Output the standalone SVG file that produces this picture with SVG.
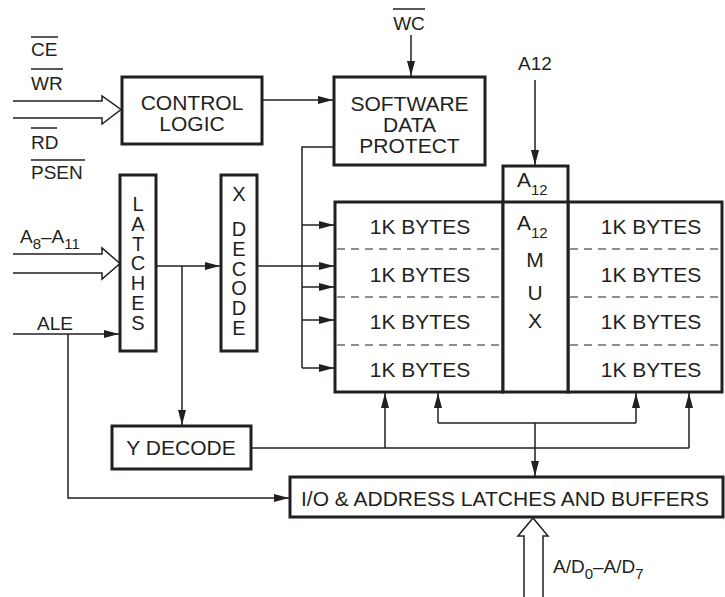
<svg xmlns="http://www.w3.org/2000/svg" width="725" height="597" viewBox="0 0 725 597">
<defs>
<marker id="ah" markerUnits="userSpaceOnUse" markerWidth="15" markerHeight="8" refX="15" refY="4" orient="auto"><path d="M0,0 L15,4 L0,8 z" fill="#231f20"/></marker>
<style>
text{font-family:"Liberation Sans",Arial,sans-serif;fill:#231f20;font-size:21px}
.m{text-anchor:middle}
.lbl{font-size:19px}
.sub{font-size:15px}
.vt{writing-mode:vertical-rl;text-orientation:upright;font-size:20px;letter-spacing:-2.2px}
.box{fill:#fff;stroke:#231f20;stroke-width:3}
.c{fill:none;stroke:#231f20;stroke-width:1.5}
.a{marker-end:url(#ah)}
.ol{stroke:#231f20;stroke-width:1.5}
.d{stroke:#231f20;stroke-width:1.2;stroke-dasharray:8,6}
.hol{fill:#fff;stroke:#231f20;stroke-width:1.5}
</style>
</defs>
<rect width="725" height="597" fill="#fff"/>

<g id="connectors">
<path class="c a" d="M262,100 H333"/>
<path class="c a" d="M411,35 V76"/>
<path class="c a" d="M535,80 V165"/>
<path class="c" d="M334,147 H302 V368"/>
<path class="c a" d="M302,225 H334"/>
<path class="c a" d="M302,287 H334"/>
<path class="c a" d="M302,320 H334"/>
<path class="c a" d="M302,368 H334"/>
<path class="c a" d="M156,266 H220"/>
<path class="c a" d="M182,266 V425"/>
<path class="c a" d="M257,266 H334"/>
<path class="c a" d="M13,334 H119"/>
<path class="c a" d="M68,334 V498 H289"/>
<path class="c" d="M251,448 H689"/>
<path class="c a" d="M385,448 V393"/>
<path class="c a" d="M689,448 V393"/>
<path class="c a" d="M535,423 V476"/>
<path class="c" d="M438,423 H636"/>
<path class="c a" d="M438,423 V393"/>
<path class="c a" d="M636,423 V393"/>
<path class="hol" d="M13,101 H102 V96 L121,109.5 L102,124 V118 H13"/>
<path class="hol" d="M13,254 H102 V248 L120,263.5 L102,279 V273 H13"/>
<path class="hol" d="M524,597 V536 H518 L533,518 L548,536 H543 V597"/>
</g>

<g id="labels">
<text class="lbl" x="31" y="56">CE</text><line class="ol" x1="31" y1="37" x2="58" y2="37"/>
<text class="lbl" x="31" y="90">WR</text><line class="ol" x1="31" y1="69" x2="63" y2="69"/>
<text class="lbl" x="31" y="149">RD</text><line class="ol" x1="31" y1="128" x2="57" y2="128"/>
<text class="lbl" x="31" y="179">PSEN</text><line class="ol" x1="31" y1="160" x2="85" y2="160"/>
<text class="lbl m" x="409" y="30">WC</text><line class="ol" x1="393" y1="9" x2="425" y2="9"/>
<text class="lbl m" x="535" y="70">A12</text>
<text class="lbl" x="20" y="243">A<tspan class="sub" dy="6">8</tspan><tspan dy="-6">–A</tspan><tspan class="sub" dy="6">11</tspan></text>
<text class="lbl" x="37" y="330">ALE</text>
<text class="lbl" x="553" y="573">A/D<tspan class="sub" dy="6">0</tspan><tspan dy="-6">–A/D</tspan><tspan class="sub" dy="6">7</tspan></text>
</g>

<g id="control-logic">
<rect class="box" x="122" y="77" width="140" height="67"/>
<text class="m" x="192" y="109.5">CONTROL</text>
<text class="m" x="192" y="130.5">LOGIC</text>
</g>

<g id="software-data-protect">
<rect class="box" x="334" y="77" width="151" height="88"/>
<text class="m" x="409.5" y="111">SOFTWARE</text>
<text class="m" x="409.5" y="132">DATA</text>
<text class="m" x="409.5" y="153">PROTECT</text>
</g>

<g id="latches">
<rect class="box" x="120" y="175" width="36" height="176"/>
<text class="vt" x="138" y="193">LATCHES</text>
</g>

<g id="x-decode">
<rect class="box" x="221" y="175" width="36" height="176"/>
<text class="m" x="239" y="201" style="font-size:20px">X</text>
<text class="vt" x="239" y="218">DECODE</text>
</g>

<g id="memory-left">
<rect class="box" x="335" y="202" width="168" height="190"/>
<line class="d" x1="337" y1="249" x2="500" y2="249"/>
<line class="d" x1="337" y1="297" x2="500" y2="297"/>
<line class="d" x1="337" y1="345" x2="500" y2="345"/>
<text class="m" x="420" y="234">1K BYTES</text>
<text class="m" x="420" y="282">1K BYTES</text>
<text class="m" x="420" y="329">1K BYTES</text>
<text class="m" x="420" y="377">1K BYTES</text>
</g>

<g id="memory-right">
<rect class="box" x="568" y="202" width="154" height="190"/>
<line class="d" x1="570" y1="249" x2="722" y2="249"/>
<line class="d" x1="570" y1="297" x2="722" y2="297"/>
<line class="d" x1="570" y1="345" x2="722" y2="345"/>
<text class="m" x="651" y="234">1K BYTES</text>
<text class="m" x="651" y="282">1K BYTES</text>
<text class="m" x="651" y="329">1K BYTES</text>
<text class="m" x="651" y="377">1K BYTES</text>
</g>

<g id="a12-mux">
<rect class="box" x="503" y="166" width="65" height="226"/>
<line x1="503" y1="202" x2="568" y2="202" stroke="#231f20" stroke-width="3"/>
<text x="517" y="187">A<tspan class="sub" dy="8">12</tspan></text>
<text x="517" y="230">A<tspan class="sub" dy="8">12</tspan></text>
<text class="m" x="535" y="267">M</text>
<text class="m" x="535" y="300">U</text>
<text class="m" x="535" y="328">X</text>
</g>

<g id="y-decode">
<rect class="box" x="112" y="426" width="139" height="43"/>
<text class="m" x="181" y="455">Y DECODE</text>
</g>

<g id="io-latches">
<rect class="box" x="290" y="477" width="433" height="40"/>
<text class="m" x="505" y="506">I/O &amp; ADDRESS LATCHES AND BUFFERS</text>
</g>
</svg>
